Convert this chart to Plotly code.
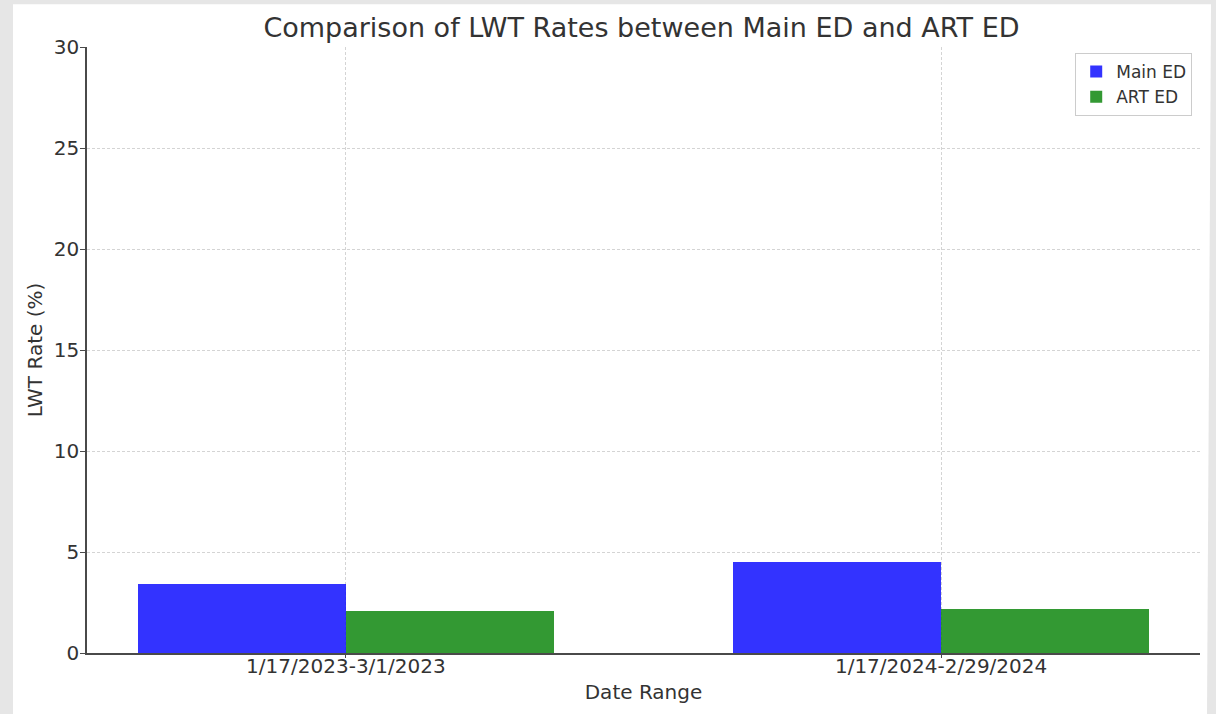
import plotly.graph_objects as go

# LWT (left without treatment) rates by period
date_ranges = ["1/17/2023-3/1/2023", "1/17/2024-2/29/2024"]
main_ed = [3.4, 4.5]
art_ed = [2.1, 2.2]
y_ticks = [0, 5, 10, 15, 20, 25, 30]

bar_w = 0.35
pos = list(range(len(date_ranges)))

fig = go.Figure()
fig.add_trace(go.Bar(
    x=pos, y=main_ed, name="Main ED", width=bar_w, offset=-bar_w,
    marker=dict(color="rgba(0,0,255,0.8)", line=dict(width=0)),
))
fig.add_trace(go.Bar(
    x=pos, y=art_ed, name="ART ED", width=bar_w, offset=0,
    marker=dict(color="rgba(0,128,0,0.8)", line=dict(width=0)),
))

font = "DejaVu Sans"
ink = "#333333"
grid = dict(showgrid=True, gridcolor="#d4d4d4", griddash="3px,2px", gridwidth=1)

fig.update_layout(
    width=1216, height=714,
    margin=dict(l=87, r=16, t=47, b=61),
    paper_bgcolor="#e6e6e6",
    plot_bgcolor="rgba(0,0,0,0)",
    barmode="overlay",
    bargap=0,
    font=dict(family=font, color=ink, size=20),
    title=dict(text="Comparison of LWT Rates between Main ED and ART ED",
               x=0.5275, xanchor="center", y=0.962, yanchor="middle",
               font=dict(size=27, color=ink)),
    xaxis=dict(
        range=[-0.435, 1.435], tickmode="array", tickvals=pos, ticktext=date_ranges,
        **grid,
        showline=True, linecolor="#4a4a4a", linewidth=1.5,
        ticks="outside", ticklen=3, tickcolor="#4a4a4a",
        ticklabelstandoff=-9,
        tickfont=dict(size=20, color=ink),
        title=dict(text="Date Range", font=dict(size=20, color=ink), standoff=8),
        zeroline=False,
    ),
    yaxis=dict(
        range=[0, 30], tickmode="array", tickvals=y_ticks,
        **grid,
        showline=True, linecolor="#4a4a4a", linewidth=1.5,
        ticks="outside", ticklen=5, tickcolor="#4a4a4a",
        ticklabelstandoff=-3,
        tickfont=dict(size=20, color=ink),
        title=dict(text="LWT Rate (%)", font=dict(size=20, color=ink), standoff=6),
        zeroline=False,
    ),
    legend=dict(
        x=0.993, xanchor="right", y=0.99, yanchor="top",
        bgcolor="rgba(255,255,255,0.9)", bordercolor="#cccccc", borderwidth=1,
        font=dict(size=17, color=ink),
    ),
    shapes=[
        # white card behind the chart
        dict(type="path", xref="paper", yref="paper",
             path="M -0.0665 1.0707 L 1.0099 1.0707 L 1.0063 -0.1007 L -0.0665 -0.1007 Z",
             fillcolor="white", line=dict(width=0), layer="below"),
    ],
)

fig.write_html("out.html")
